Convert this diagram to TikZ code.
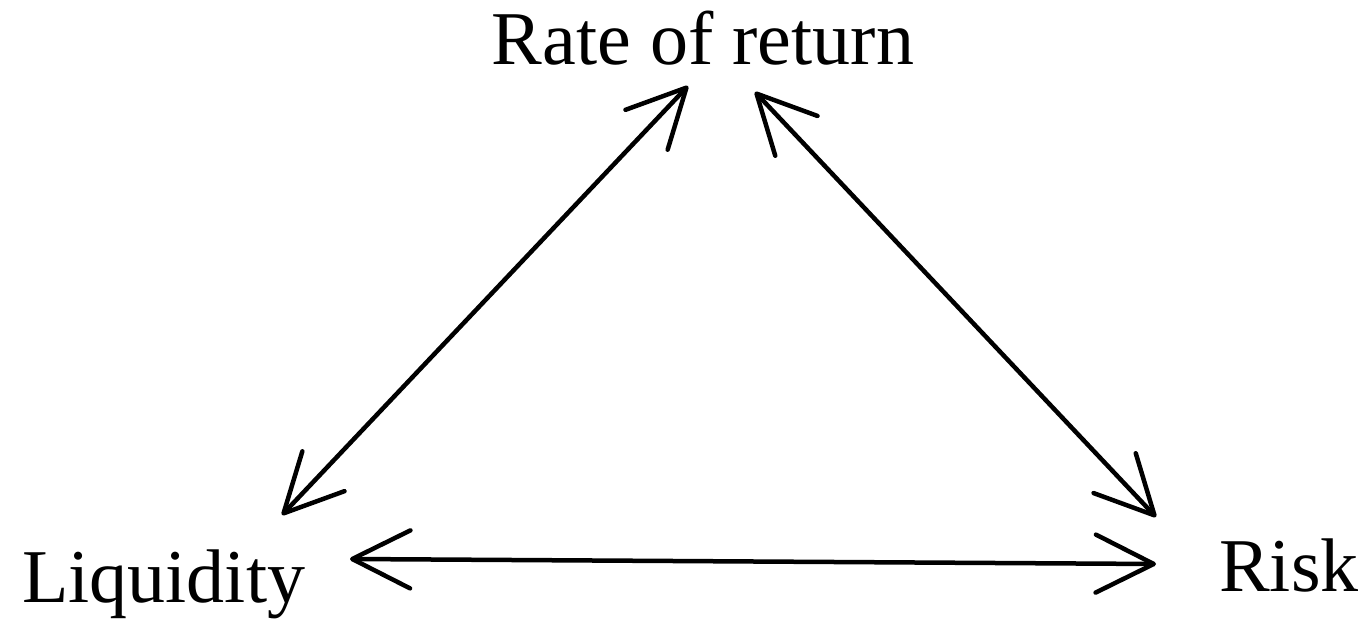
\documentclass[tikz,border=0pt]{standalone}
\usepackage{fontspec}
\setmainfont{Liberation Serif}
\usetikzlibrary{arrows.meta}
\begin{document}
\begin{tikzpicture}[x=1pt,y=1pt]

        % Stile globale per etichette e frecce
        \tikzset{lbl/.style={inner sep=0pt,font=\fontsize{76}{90}\selectfont},
                 dbl/.style={line width=4.5pt,line cap=round,
                   {Straight Barb[length=58pt,width=58pt,round]}-{Straight Barb[length=58pt,width=58pt,round]}}}

        % Area del disegno
        \useasboundingbox (0,0) rectangle (1368,626);

        % Etichette ai vertici
        \node[lbl,anchor=base] (rate) at (703,561) {Rate of return};
        \node[lbl,anchor=base west] (liq) at (22,23) {Liquidity};
        \node[lbl,anchor=base west] (risk) at (1219,34) {Risk};

        % Estremi delle frecce
        \coordinate (liqtop) at (282,111);
        \coordinate (ratel) at (688,540);
        \coordinate (rater) at (755,534);
        \coordinate (risktop) at (1156,109);
        \coordinate (liqr) at (350,67);
        \coordinate (riskl) at (1156,62);

        % Frecce doppie
        \draw[dbl] (liqtop) -- (ratel);
        \draw[dbl] (rater) -- (risktop);
        \draw[dbl] (liqr) -- (riskl);

    \end{tikzpicture}
\end{document}
